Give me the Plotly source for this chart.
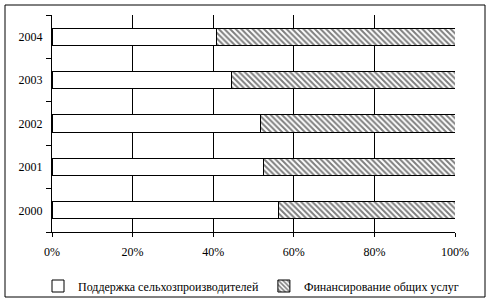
import plotly.graph_objects as go

years = ["2000", "2001", "2002", "2003", "2004"]
support = [56.1, 52.4, 51.7, 44.5, 40.9]
services = [round(100 - v, 1) for v in support]
series_names = ["Поддержка сельхозпроизводителей", "Финансирование общих услуг"]
x_ticks = [0, 20, 40, 60, 80, 100]
x_tick_text = [f"{v}%" for v in x_ticks]

W, H = 493, 304
L, R, T, B = 52, 38, 15, 72
pw, ph = W - L - R, H - T - B
FONT = "Liberation Serif"

fig = go.Figure()
fig.add_trace(go.Bar(
    y=years, x=support, orientation="h", name=series_names[0],
    marker=dict(color="white", line=dict(color="black", width=1)),
))
fig.add_trace(go.Bar(
    y=years, x=services, orientation="h", name=series_names[1],
    marker=dict(color="white", line=dict(color="black", width=1),
                pattern=dict(shape="\\", fgcolor="black", bgcolor="white",
                             size=4, solidity=0.5)),
))

def px_x(p):
    return (p - L) / pw

def px_y(p):
    return (H - B - p) / ph

fig.add_shape(type="rect", xref="paper", yref="paper",
              x0=px_x(5), x1=px_x(485), y0=px_y(297), y1=px_y(5),
              line=dict(color="black", width=1), fillcolor="rgba(0,0,0,0)")

fig.update_layout(
    width=W, height=H, margin=dict(l=L, r=R, t=T, b=B, autoexpand=False),
    paper_bgcolor="white", plot_bgcolor="white",
    barmode="stack", bargap=0.6,
    font=dict(family=FONT, size=12, color="black"),
    showlegend=True,
    legend=dict(orientation="h",
                x=px_x(38), xanchor="left", y=px_y(286), yanchor="middle",
                font=dict(family=FONT, size=12, color="black"),
                itemwidth=30, traceorder="normal", bgcolor="rgba(0,0,0,0)"),
    xaxis=dict(range=[0, 100], tickvals=x_ticks, ticktext=x_tick_text,
               showgrid=True, gridcolor="black", gridwidth=1,
               showline=True, linecolor="black", linewidth=1,
               ticks="outside", ticklen=4, tickcolor="black",
               tickfont=dict(family=FONT, size=12, color="black"),
               ticklabelstandoff=5, zeroline=False, fixedrange=True),
    yaxis=dict(type="category", categoryorder="array", categoryarray=years,
               showgrid=False, showline=True, linecolor="black", linewidth=1,
               ticks="outside", ticklen=5, tickcolor="black", tickson="boundaries",
               tickfont=dict(family=FONT, size=12, color="black"),
               ticklabelstandoff=6, zeroline=False, fixedrange=True),
)

fig.write_html("out.html")
